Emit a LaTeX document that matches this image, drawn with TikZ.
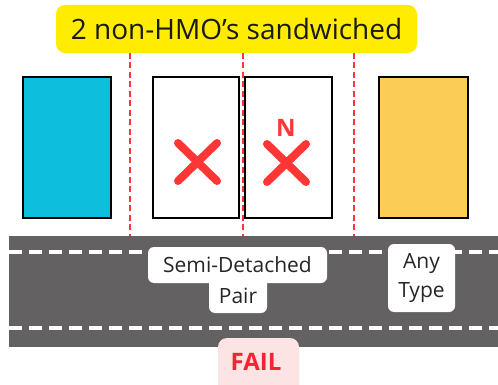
\documentclass[tikz,border=0pt]{standalone}
\usepackage{fontspec}
\setmainfont{Open Sans}
\definecolor{roadgray}{HTML}{636162}
\definecolor{xred}{HTML}{FF3636}
\definecolor{boxblue}{HTML}{0DBEDD}
\definecolor{boxyellow}{HTML}{FCCD55}
\definecolor{labelyellow}{HTML}{FFEC00}
\definecolor{failpink}{HTML}{FDE4E4}
\definecolor{failred}{HTML}{F42432}
\tikzset{
  house/.style={draw=black, line width=2pt, inner sep=0pt},
  divider/.style={draw=xred, line width=2pt, dash pattern=on 6pt off 3.5pt},
  lane/.style={draw=white, line width=3.5pt, dash pattern=on 13pt off 7pt},
  cross/.style={draw=xred, line width=8pt, line cap=round},
  roadlabel/.style={fill=white, rounded corners=6pt, align=center, font=\fontsize{21}{29}\selectfont, text=black!85},
}
\begin{document}
\begin{tikzpicture}[x=1pt,y=-1pt]
\useasboundingbox (0,0) rectangle (498,385);
% road
\fill[roadgray] (9,236) rectangle (498,347);
\coordinate (l1a) at (9,252); \coordinate (l1b) at (498,252);
\coordinate (l2a) at (9,328); \coordinate (l2b) at (498,328);
\draw[lane] (l1a) -- (l1b);
\draw[lane] (l2a) -- (l2b);
% houses
\node[house, fill=boxblue, minimum width=88pt, minimum height=141pt] (hb) at (67,147.5) {};
\node[house, fill=white, minimum width=86pt, minimum height=141pt] (h1) at (196,147.5) {};
\node[house, fill=white, minimum width=87pt, minimum height=141pt] (h2) at (288.5,147.5) {};
\node[house, fill=boxyellow, minimum width=89pt, minimum height=141pt] (hy) at (423.5,147.5) {};
% title
\node[fill=labelyellow, rounded corners=9pt, minimum width=361pt, minimum height=48pt, inner sep=0pt, font=\fontsize{28}{30}\selectfont, text=black!90] (title) at (236.5,29) {2 non-HMO’s sandwiched};
% dividers
\coordinate (d1t) at (130,53); \coordinate (d1b) at (130,236);
\coordinate (d2t) at (242.5,53); \coordinate (d2b) at (242.5,236);
\coordinate (d3t) at (354,53); \coordinate (d3b) at (354,236);
\draw[divider] (d1t) -- (d1b);
\draw[divider] (d2t) -- (d2b);
\draw[divider] (d3t) -- (d3b);
% crosses
\draw[cross] (178,143) -- (217,181) (217,143) -- (178,181);
\draw[cross] (267,144) -- (306,182) (306,144) -- (267,182);
\node[text=xred, font=\fontsize{24}{24}\selectfont\bfseries, inner sep=0pt] (n) at (286,127.5) {N};
% road labels
\fill[white, rounded corners=6pt] (209,270) rectangle (267,313);
\node[fill=white, rounded corners=6pt, minimum width=179pt, minimum height=36pt, inner sep=0pt, font=\fontsize{21}{29}\selectfont, text=black!85] (semi) at (237.5,265) {Semi-Detached};
\node[inner sep=0pt, font=\fontsize{21}{29}\selectfont, text=black!85] (pair) at (238,295.5) {Pair};
\node[roadlabel, minimum width=67pt, minimum height=68pt, inner sep=0pt] (any) at (421.5,278) {Any\\Type};
% fail
\fill[failpink, rounded corners=9pt] (218,338) rectangle (299,395);
\node[text=failred, font=\fontsize{24}{24}\selectfont\bfseries, inner sep=0pt] (fail) at (256,362) {FAIL};
\end{tikzpicture}
\end{document}
